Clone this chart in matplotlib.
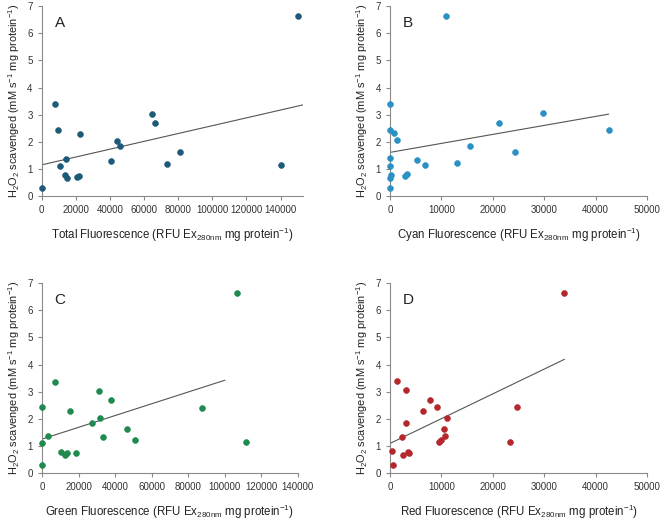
import numpy as np
import matplotlib
matplotlib.use("Agg")
import matplotlib.pyplot as plt

plt.rcParams["font.family"] = ["Liberation Sans", "DejaVu Sans"]
plt.rcParams["mathtext.default"] = "regular"

# panel A - total fluorescence
total_x = [400, 7900, 9300, 10900, 14300, 13900, 14700, 20600, 22000, 22600,
           40600, 44200, 46100, 64500, 66700, 73700, 81000, 140300, 150100]
total_y = [0.29, 3.40, 2.44, 1.10, 1.36, 0.79, 0.65, 0.72, 0.75, 2.29,
           1.31, 2.04, 1.83, 3.04, 2.70, 1.20, 1.62, 1.13, 6.63]
total_fit_x = [0, 153000]
total_fit_y = [1.15, 3.36]

# panel B - cyan fluorescence
cyan_x = [0, 0, 710, 1360, 0, 0, 260, 0, 0, 3000, 3380, 5190, 6880,
          10800, 12990, 15580, 21230, 24220, 29740, 42500]
cyan_y = [3.40, 2.45, 2.31, 2.05, 1.39, 1.12, 0.76, 0.66, 0.31, 0.75, 0.80,
          1.33, 1.13, 6.63, 1.21, 1.84, 2.71, 1.62, 3.06, 2.43]
cyan_fit_x = [0, 42500]
cyan_fit_y = [1.61, 3.02]

# panel C - green fluorescence
green_x = [0, 0, 0, 3270, 6900, 10200, 12400, 13800, 15600, 18400, 27600,
           31300, 31800, 33300, 38000, 46700, 50700, 87600, 106600, 111600]
green_y = [0.29, 1.10, 2.43, 1.36, 3.37, 0.78, 0.65, 0.73, 2.29, 0.75, 1.83,
           3.04, 2.03, 1.31, 2.69, 1.61, 1.20, 2.41, 6.62, 1.13]
green_fit_x = [0, 100000]
green_fit_y = [1.25, 3.42]

# panel D - red fluorescence
red_x = [390, 650, 1300, 2340, 2530, 3050, 3180, 3510, 3770, 6360, 7790,
         9160, 9610, 10000, 10450, 10780, 11170, 23380, 24740, 33900]
red_y = [0.81, 0.31, 3.40, 1.32, 0.66, 1.85, 3.06, 0.76, 0.75, 2.30, 2.70,
         2.44, 1.14, 1.21, 1.63, 1.38, 2.04, 1.15, 2.42, 6.63]
red_fit_x = [0, 33900]
red_fit_y = [1.09, 4.19]

ylab = r"H$_2$O$_2$ scavenged (mM s$^{-1}$ mg protein$^{-1}$)"
xlab = " Fluorescence (RFU Ex$_{280nm}$ mg protein$^{-1}$)"

panels = [
    ("A", total_x, total_y, total_fit_x, total_fit_y, "#1d5a78", "Total",
     [0.063, 0.623, 0.395, 0.365], 153000, np.arange(0, 140001, 20000)),
    ("B", cyan_x, cyan_y, cyan_fit_x, cyan_fit_y, "#2b90c4", "Cyan",
     [0.590, 0.623, 0.389, 0.365], 50000, np.arange(0, 50001, 10000)),
    ("C", green_x, green_y, green_fit_x, green_fit_y, "#1e8a4e", "Green",
     [0.0635, 0.0904, 0.387, 0.365], 140000, np.arange(0, 140001, 20000)),
    ("D", red_x, red_y, red_fit_x, red_fit_y, "#b3272d", "Red",
     [0.590, 0.0904, 0.389, 0.365], 50000, np.arange(0, 50001, 10000)),
]

fig = plt.figure(figsize=(6.61, 5.2), dpi=100)

for letter, x, y, fx, fy, col, name, pos, xmax, xt in panels:
    ax = fig.add_axes(pos)
    ax.plot(fx, fy, color="#555555", lw=0.8, zorder=2)
    ax.scatter(x, y, s=18, color=col, edgecolors=col, linewidths=0.4, zorder=3,
               clip_on=False)
    ax.set_xlim(0, xmax)
    ax.set_ylim(0, 7)
    ax.set_xticks(xt)
    ax.set_yticks(range(0, 8))
    ax.spines["top"].set_visible(False)
    ax.spines["right"].set_visible(False)
    for s in ["left", "bottom"]:
        ax.spines[s].set_color("#8a8a8a")
        ax.spines[s].set_linewidth(0.8)
    ax.tick_params(colors="#8a8a8a", labelcolor="#333333", labelsize=7,
                   length=3, width=0.8, direction="out")
    ax.set_xlabel(name + xlab, fontsize=8.3, color="#222222")
    ax.xaxis.set_label_coords(0.5, -0.158)
    ax.set_ylabel(ylab, fontsize=7.9, color="#222222")
    ax.yaxis.set_label_coords(-0.075 * 261 / (pos[2] * 661), 0.5)
    ax.text(0.07, 0.91, letter, transform=ax.transAxes, fontsize=11,
            ha="center", va="center", color="#222222")

fig.savefig("out.png", dpi=100)
